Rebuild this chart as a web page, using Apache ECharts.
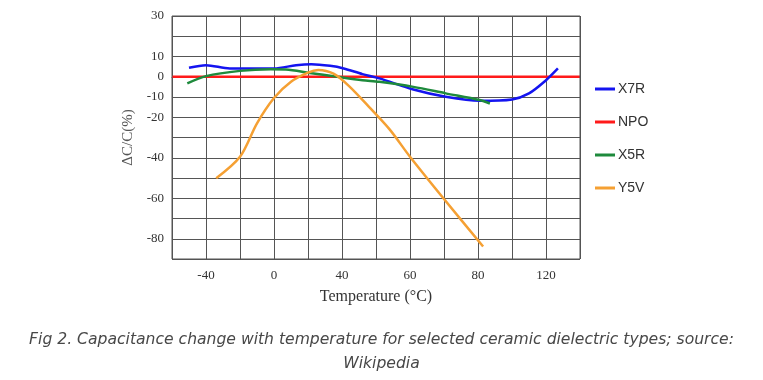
<!DOCTYPE html>
<html>
<head>
<meta charset="utf-8">
<script src="https://cdn.jsdelivr.net/npm/echarts@6/dist/echarts.min.js"></script>
<style>
html,body{margin:0;padding:0;background:#fff;}
#chart{width:763px;height:380px;}
</style>
</head>
<body>
<div id="chart"></div>
<script>
// x values are in the linear axis units of the drawn grid (one grid column = 20 units)
const xTickLabels = {'-40':'-40','0':'0','40':'40','80':'60','120':'80','160':'120'};
const yTickLabels = [30, 10, 0, -10, -20, -40, -60, -80];
const seriesNames = ['X7R', 'NPO', 'X5R', 'Y5V'];
const seriesColors = ['#1414f0', '#ff1a1a', '#1e8a3c', '#f5a033'];

const x7r = [[-50,4.4],[-40,5.7],[-26,4.1],[0,4.1],[13,5.7],[22,6.2],[33,5.4],[41,4.1],[52,1.3],[62,-0.8],[82,-6.3],[101,-9.9],[121,-11.9],[140,-11.2],[150,-8.2],[160,-1.7],[167,4.1]];
const npo = [[-60,0],[180,0]];
const x5r = [[-51,-3.3],[-40,0.3],[-20,2.9],[-2,3.7],[7,3.6],[21,1.9],[37,0],[52,-1.7],[62,-2.5],[82,-5],[101,-8.2],[121,-11.5],[127,-13.2]];
const y5v = [[-34,-50.1],[-20,-39.5],[-10,-23],[0,-10.5],[10,-2.5],[20,2],[26,3.3],[35,1.5],[44,-4.5],[56,-15],[68,-26],[80,-39.5],[100,-60.4],[123,-83.8]];
const seriesData = [x7r, npo, x5r, y5v];

const chart = echarts.init(document.getElementById('chart'));
chart.setOption({
  animation: false,
  grid: {left: 172, right: 183, top: 16, bottom: 121, containLabel: false},
  xAxis: {
    type: 'value', min: -60, max: 180, interval: 20,
    name: 'Temperature (°C)', nameLocation: 'middle', nameGap: 30,
    nameTextStyle: {fontFamily: 'Liberation Serif', fontSize: 16, color: '#333'},
    axisLine: {show: true, lineStyle: {color: '#555', width: 1}},
    axisTick: {show: false},
    axisLabel: {fontFamily: 'Liberation Serif', fontSize: 13, color: '#333', margin: 10,
      formatter: v => xTickLabels[String(v)] || ''},
    splitLine: {show: true, lineStyle: {color: '#555', width: 1}}
  },
  yAxis: {
    type: 'value', min: -90, max: 30, interval: 10,
    name: 'ΔC/C(%)', nameLocation: 'middle', nameGap: 36,
    nameTextStyle: {fontFamily: 'Liberation Serif', fontSize: 15, color: '#555'},
    axisLine: {show: true, lineStyle: {color: '#555', width: 1}},
    axisTick: {show: false},
    axisLabel: {fontFamily: 'Liberation Serif', fontSize: 13, color: '#333', margin: 8,
      formatter: v => yTickLabels.indexOf(v) >= 0 ? String(v) : ''},
    splitLine: {show: true, lineStyle: {color: '#555', width: 1}}
  },
  legend: {
    orient: 'vertical', left: 590, top: 77, itemGap: 19,
    itemWidth: 20, itemHeight: 3, icon: 'rect',
    textStyle: {fontFamily: 'Liberation Sans', fontSize: 14, color: '#333', padding: [0,0,0,-2]},
    data: seriesNames
  },
  graphic: [
    {type: 'rect', shape: {x: 172, y: 16, width: 408, height: 243}, style: {fill: 'none', stroke: '#555', lineWidth: 1}, z: 10},
    {type: 'text', left: 'center', top: 332, style: {text: 'Fig 2. Capacitance change with temperature for selected ceramic dielectric types; source:', font: 'oblique 15.6px "DejaVu Sans"', fill: '#484848'}},
    {type: 'text', left: 'center', top: 356, style: {text: 'Wikipedia', font: 'oblique 15.6px "DejaVu Sans"', fill: '#484848'}}
  ],
  series: seriesNames.map((n, i) => ({
    name: n, type: 'line', data: seriesData[i], smooth: i === 1 ? false : 0.3,
    showSymbol: false, symbol: 'none', color: seriesColors[i],
    lineStyle: {width: 2.5, color: seriesColors[i]}, z: i === 1 ? 3 : 4
  }))
});
</script>
</body>
</html>
